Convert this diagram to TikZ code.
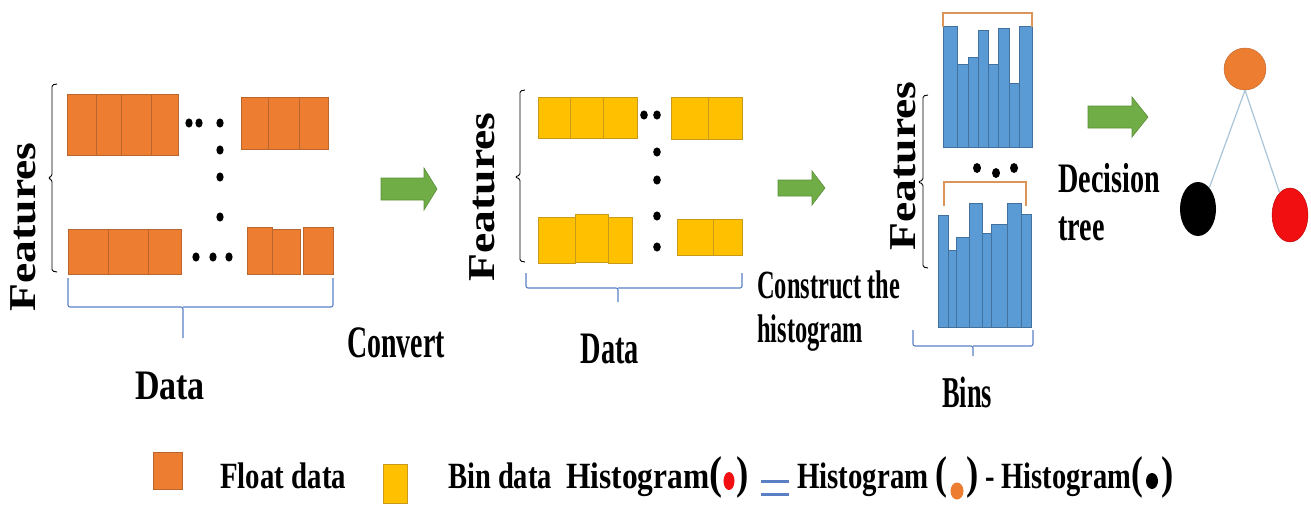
\documentclass[tikz,border=0pt]{standalone}
\usepackage{fontspec}
\setmainfont{Liberation Serif}
\usepackage{graphicx}
\usetikzlibrary{shapes.geometric}

\definecolor{forange}{HTML}{ED7D31}
\definecolor{forangeD}{HTML}{B9652E}
\definecolor{fyellow}{HTML}{FFC000}
\definecolor{fyellowD}{HTML}{C99A1A}
\definecolor{fgreen}{HTML}{70AD47}
\definecolor{fgreenD}{HTML}{5A8E38}
\definecolor{fbar}{HTML}{5B9BD5}
\definecolor{fbarD}{HTML}{41719C}
\definecolor{fbrace}{HTML}{5B7FC4}
\definecolor{fbrack}{HTML}{D9955A}
\definecolor{ftree}{HTML}{A8C4D8}
\definecolor{fred}{HTML}{F20F12}

\newcommand\tx[3]{{\fontsize{#1}{#1}\selectfont\bfseries\scalebox{#2}[1]{#3}}}
\newcommand\bigpar[1]{{\fontsize{46}{46}\selectfont\bfseries #1}}
% green block arrow: x1 x2(head start) x3(tip) yc bodyhalf headhalf
\newcommand\garrow[6]{%
  \draw[garr] (#1,#4-#5) -- (#2,#4-#5) -- (#2,#4-#6) -- (#3,#4) -- (#2,#4+#6) -- (#2,#4+#5) -- (#1,#4+#5) -- cycle;}

\begin{document}
\begin{tikzpicture}[x=1pt,y=-1pt,
  cellO/.style={fill=forange,draw=forangeD,line width=0.6pt},
  cellY/.style={fill=fyellow,draw=fyellowD,line width=0.6pt},
  bar/.style={fill=fbar,draw=fbarD,line width=0.6pt},
  garr/.style={fill=fgreen,draw=fgreenD,line width=0.6pt},
  bbrace/.style={draw=fbrace,line width=1.1pt,rounded corners=2pt},
  kbrace/.style={draw=black,line width=0.9pt,rounded corners=1.5pt},
  obrack/.style={draw=fbrack,line width=1.3pt},
  lbl/.style={inner sep=0pt},
  dotk/.style={fill=black},
  treeline/.style={draw=ftree,line width=1.2pt}]
\useasboundingbox (0,0) rectangle (1311,514);

% ---------------- Panel 1 : float data ----------------
\foreach \a/\b in {67/96,96/121,121/151,151/178} \draw[cellO] (\a,94) rectangle (\b,155);
\foreach \a/\b in {241/268,268/299,299/328} \draw[cellO] (\a,97) rectangle (\b,149);
\foreach \a/\b in {68/108,108/148,148/181} \draw[cellO] (\a,229) rectangle (\b,274);
\draw[cellO] (247,227) rectangle (272,274);
\draw[cellO] (272,229) rectangle (300,274);
\draw[cellO] (303,227) rectangle (333,274);
\foreach \p in {(189,123),(199,123),(220,123),(220,150),(220,177),(220,217),(196,257),(213,257),(229,257)}
  \fill[dotk] \p ellipse [x radius=3.6pt, y radius=4.6pt];
\draw[kbrace] (57,84) -- (52,85) -- (52,176) -- (48,178) -- (52,180) -- (52,271) -- (57,272);
\draw[bbrace] (68,278) -- (68,307) -- (183,307) -- (183,338);
\draw[bbrace] (183,307) -- (333,307) -- (333,278);
\node[lbl,rotate=90] (feat1) at (23,227) {\tx{38}{1.2}{Features}};
\node[lbl] (data1) at (170,386) {\tx{42}{0.81}{Data}};
\node[lbl] (conv) at (396,343) {\tx{45}{0.62}{Convert}};
\garrow{381}{424}{437}{189}{11}{21}

% ---------------- Panel 2 : bin data ----------------
\foreach \a/\b in {538/570,570/603,603/637} \draw[cellY] (\a,97) rectangle (\b,138);
\foreach \a/\b in {671/708,708/742} \draw[cellY] (\a,97) rectangle (\b,139);
\draw[cellY] (538,217) rectangle (575,263);
\draw[cellY] (575,214) rectangle (608,262);
\draw[cellY] (608,217) rectangle (632,263);
\foreach \a/\b in {677/713,713/742} \draw[cellY] (\a,219) rectangle (\b,255);
\foreach \p in {(644,115),(657,115),(657,152),(657,180),(657,216),(657,247)}
  \fill[dotk] \p ellipse [x radius=3.8pt, y radius=4.6pt];
\draw[kbrace] (525,90) -- (520,91) -- (520,175) -- (515,177) -- (520,179) -- (520,261) -- (525,262);
\draw[bbrace] (526,273) -- (526,288) -- (618,288) -- (618,302);
\draw[bbrace] (618,288) -- (742,288) -- (742,273);
\node[lbl,rotate=90] (feat2) at (482,197) {\tx{38}{1.2}{Features}};
\node[lbl] (data2) at (610,349) {\tx{45}{0.63}{Data}};
\node[lbl,anchor=base west] (cons1) at (757,298) {\tx{40}{0.61}{Construct the}};
\node[lbl,anchor=base west] (cons2) at (757,342) {\tx{40}{0.61}{histogram}};
\garrow{778}{812}{825}{188}{8}{17}

% ---------------- Panel 3 : histograms ----------------
\foreach \a/\b/\t in {943/957/26,957/968/64,968/978/57,978/988/30,988/998/64,998/1009/28,1009/1019/83,1019/1032/26}
  \draw[bar] (\a,\t) rectangle (\b,147);
\foreach \a/\b/\t in {938/948/215,948/956/250,956/969/237,969/982/203,982/991/233,991/1007/224,1007/1021/203,1021/1031/214}
  \draw[bar] (\a,\t) rectangle (\b,327);
\draw[obrack] (943,27) -- (943,13) -- (1032,13) -- (1032,27);
\draw[obrack] (944,206) -- (944,182) -- (1026,182) -- (1026,206);
\foreach \p in {(977,168),(996,173),(1014,168)}
  \fill[dotk] \p ellipse [x radius=4pt, y radius=5pt];
\draw[kbrace] (928,95) -- (923,96) -- (923,180) -- (918,182) -- (923,184) -- (923,267) -- (928,268);
\draw[bbrace] (913,330) -- (913,346) -- (973,346) -- (973,356);
\draw[bbrace] (973,346) -- (1033,346) -- (1033,330);
\node[lbl,rotate=90] (feat3) at (903,166) {\tx{38}{1.2}{Features}};
\node[lbl] (bins) at (967,392) {\tx{44}{0.6}{Bins}};
\garrow{1088}{1132}{1148}{117}{11}{20}

% ---------------- Panel 4 : decision tree ----------------
\node[lbl,anchor=base west] (dec1) at (1058,192) {\tx{42}{0.67}{Decision}};
\node[lbl,anchor=base west] (dec2) at (1058,240) {\tx{42}{0.67}{tree}};
\node[circle,fill=forange,draw=forangeD,line width=0.4pt,minimum size=42pt,inner sep=0pt] (root) at (1245,69) {};
\node[ellipse,fill=black,minimum width=36pt,minimum height=54pt,inner sep=0pt] (lft) at (1198,209) {};
\node[ellipse,fill=fred,draw=red!70!black,line width=0.4pt,minimum width=36pt,minimum height=54pt,inner sep=0pt] (rgt) at (1290,215) {};
\draw[treeline] (root.south) -- (lft.62);
\draw[treeline] (root.south) -- (rgt.115);

% ---------------- Legend ----------------
\draw[fill=forange,draw=forangeD,line width=0.6pt] (153,452) rectangle (182,489);
\node[lbl,anchor=base west] (lfloat) at (220,488) {\tx{37}{0.78}{Float data}};
\draw[fill=fyellow,draw=fyellowD,line width=0.6pt] (383,464) rectangle (407,503);
\node[lbl,anchor=base west] (lbin) at (448,488) {\tx{37}{0.77}{Bin data}};
\node[lbl,anchor=base west] (lh1) at (566,488) {\tx{37}{0.85}{Histogram\bigpar{(}}};
\node[ellipse,fill=fred,minimum width=11pt,minimum height=18pt,inner sep=0pt] (ldr) at (729,481) {};
\node[lbl,anchor=base west] (lp1) at (736,488) {\scalebox{0.8}[1]{\bigpar{)}}};
\draw[draw=fbrace,line width=3pt] (761,481) -- (789,481);
\draw[draw=fbrace,line width=3pt] (761,494) -- (789,494);
\node[lbl,anchor=base west] (lh2) at (797,488) {\tx{37}{0.78}{Histogram \bigpar{(}}};
\node[ellipse,fill=forange,minimum width=13pt,minimum height=17pt,inner sep=0pt] (ldo) at (957,491) {};
\node[lbl,anchor=base west] (lp2) at (966,488) {\scalebox{0.8}[1]{\bigpar{)}}};
\node[lbl,anchor=base west] (lh3) at (985,488) {\tx{37}{0.77}{- Histogram\bigpar{(}}};
\node[ellipse,fill=black,minimum width=12pt,minimum height=16pt,inner sep=0pt] (ldk) at (1152,481) {};
\node[lbl,anchor=base west] (lp3) at (1161,488) {\scalebox{0.8}[1]{\bigpar{)}}};
\end{tikzpicture}
\end{document}
